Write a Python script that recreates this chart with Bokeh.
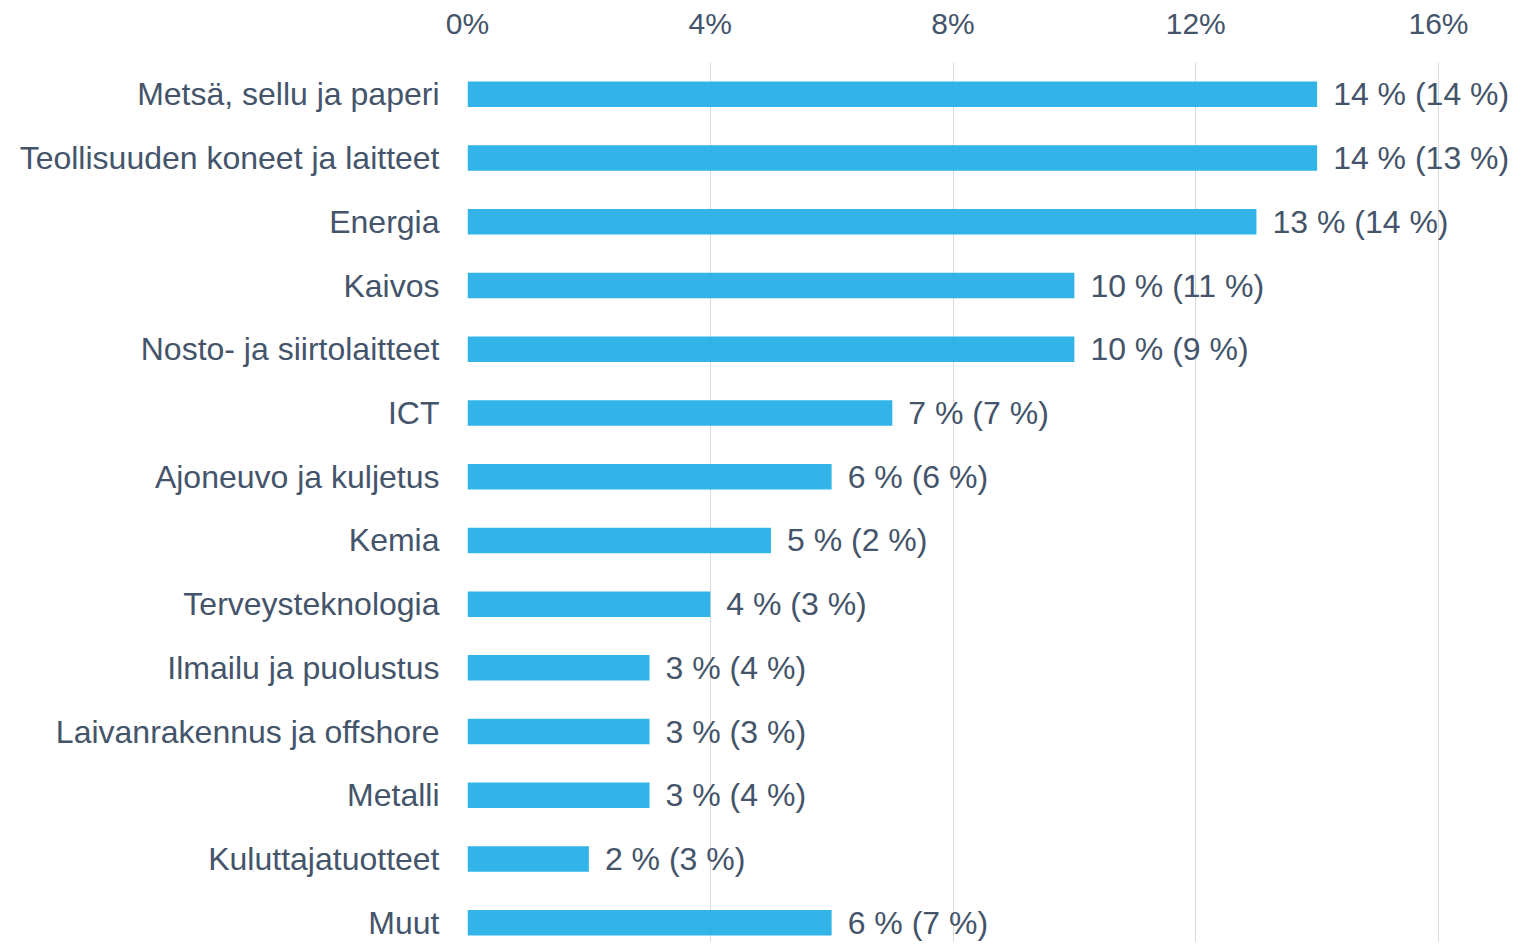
from bokeh.plotting import figure
from bokeh.models import Range1d, FixedTicker, ColumnDataSource
from bokeh.core.properties import value
from bokeh.embed import file_html
from bokeh.resources import INLINE

categories = [
    "Metsä, sellu ja paperi",
    "Teollisuuden koneet ja laitteet",
    "Energia",
    "Kaivos",
    "Nosto- ja siirtolaitteet",
    "ICT",
    "Ajoneuvo ja kuljetus",
    "Kemia",
    "Terveysteknologia",
    "Ilmailu ja puolustus",
    "Laivanrakennus ja offshore",
    "Metalli",
    "Kuluttajatuotteet",
    "Muut",
]
share_now = [14, 14, 13, 10, 10, 7, 6, 5, 4, 3, 3, 3, 2, 6]
share_prev = [14, 13, 14, 11, 9, 7, 6, 2, 3, 4, 3, 4, 3, 7]
x_ticks = [0, 4, 8, 12, 16]

TEXT = "#44546a"
BAR = "#21aee6"
FONT = "Liberation Sans"

idx = list(range(len(categories)))
labels = [f"{a} % ({b} %)" for a, b in zip(share_now, share_prev)]
src = ColumnDataSource(dict(y=idx, x=share_now, label=labels))

p = figure(
    width=1526, height=942,
    x_range=Range1d(0, 17.45),
    y_range=Range1d(13.31, -0.5),
    x_axis_location="above",
    output_backend="svg", toolbar_location=None,
    min_border_left=467, min_border_right=0, min_border_bottom=0, min_border_top=62,
)
p.outline_line_color = None

p.hbar(y="y", right="x", left=0, height=0.4, source=src,
       fill_color=BAR, fill_alpha=0.92, line_color=None)
p.text(x="x", y="y", text="label", source=src, x_offset=16,
       text_align="left", text_baseline="middle",
       text_font=value(FONT), text_font_size="32px", text_color=TEXT)

p.xaxis.ticker = FixedTicker(ticks=x_ticks)
p.xaxis.major_label_overrides = {t: f"{t}%" for t in x_ticks}
p.yaxis.ticker = FixedTicker(ticks=idx)
p.yaxis.major_label_overrides = {i: c for i, c in zip(idx, categories)}

for ax in (p.xaxis[0], p.yaxis[0]):
    ax.axis_line_color = None
    ax.major_tick_line_color = None
    ax.minor_tick_line_color = None
    ax.major_label_text_font = FONT
    ax.major_label_text_color = TEXT
p.xaxis.major_label_text_font_size = "30px"
p.yaxis.major_label_text_font_size = "32px"
p.xaxis.major_label_standoff = 17
p.yaxis.major_label_standoff = 22

p.ygrid.grid_line_color = None
p.xgrid.grid_line_color = "#d9d9d9"
p.xgrid.grid_line_width = 1

open("out.html", "w").write(file_html(p, INLINE))
